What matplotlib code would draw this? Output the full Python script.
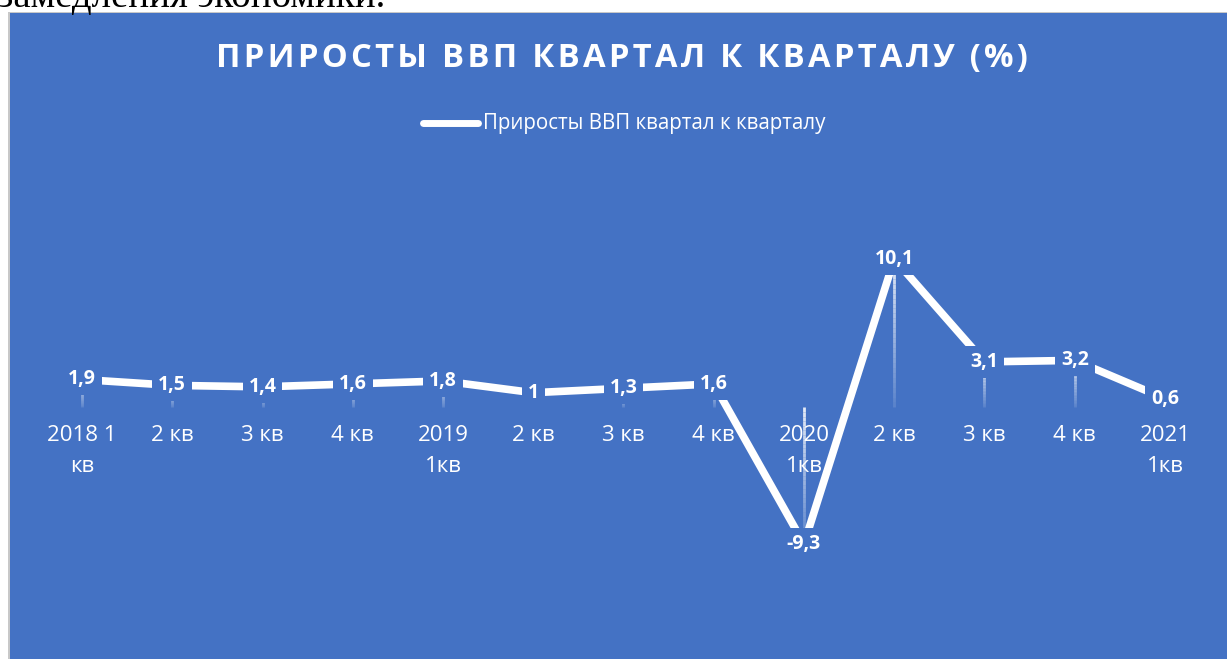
import numpy as np
import matplotlib.pyplot as plt
from matplotlib.patches import Rectangle
from matplotlib.lines import Line2D

plt.rcParams['font.family'] = ['Open Sans', 'DejaVu Sans']

quarters = ['2018 1\nкв', '2 кв', '3 кв', '4 кв', '2019\n1кв', '2 кв', '3 кв', '4 кв',
            '2020\n1кв', '2 кв', '3 кв', '4 кв', '2021\n1кв']
growth = [1.9, 1.5, 1.4, 1.6, 1.8, 1.0, 1.3, 1.6, -9.3, 10.1, 3.1, 3.2, 0.6]
labels = ['1,9', '1,5', '1,4', '1,6', '1,8', '1', '1,3', '1,6', '-9,3', '10,1', '3,1', '3,2', '0,6']
title = 'ПРИРОСТЫ ВВП КВАРТАЛ К КВАРТАЛУ (%)'

blue = '#4472C4'
W, H = 1227, 659
fig = plt.figure(figsize=(W / 100, H / 100), dpi=100)
fig.patch.set_facecolor('white')

# panel background and the cut-off document line above it
fig.patches.append(Rectangle((7.5 / W, 0), 1, (H - 11.5) / H, transform=fig.transFigure,
                             facecolor='#c8c8c8', edgecolor='none', zorder=-10))
fig.patches.append(Rectangle((9.5 / W, 0), 1, (H - 13) / H, transform=fig.transFigure,
                             facecolor=blue, edgecolor='none', zorder=-9))
fig.text(-2 / W, 1 - 7 / H, 'замедления экономики.', family='Liberation Serif',
         fontsize=28, color='black', va='baseline', ha='left')

# axes placed so that x: 82 + 90.25*i px, y: 407.4 - 14.69*v px
x0, dx = 82.0, 90.25
y0, dy = 407.4, 14.69
px_l, px_r, px_t, px_b = 20, 1220, 150, 650
ax = fig.add_axes([px_l / W, 1 - px_b / H, (px_r - px_l) / W, (px_b - px_t) / H])
ax.set_zorder(5)
ax.set_xlim((px_l - x0) / dx, (px_r - x0) / dx)
ax.set_ylim((y0 - px_b) / dy, (y0 - px_t) / dy)
ax.patch.set_alpha(0)
for s in ax.spines.values():
    s.set_visible(False)
ax.set_xticks([])
ax.set_yticks([])

x = np.arange(len(growth))

# drop lines with fading gradient
for xi, v in zip(x, growth):
    n = 30
    ys = np.linspace(max(v, 0), min(v, 0), n + 1)
    for k in range(n):
        a = 0.85 - 0.75 * k / n
        ax.plot([xi, xi], [ys[k], ys[k + 1]], color='white', alpha=a, lw=2,
                solid_capstyle='butt', zorder=2)

ax.plot(x, growth, color='white', lw=5.5, solid_capstyle='butt', zorder=3)

for xi, v, t in zip(x, growth, labels):
    ax.text(xi, v, t, ha='center', va='center', color='white', fontsize=14,
            fontweight='bold', zorder=5,
            bbox=dict(boxstyle='square,pad=0.3', facecolor=blue, edgecolor='none'))

for xi, q in zip(x, quarters):
    ax.text(xi, (y0 - 425) / dy, q, ha='center', va='top', color='white',
            fontsize=16, linespacing=1.6, zorder=4)

# title with letter spacing (hair spaces)
fig.text(622 / W, 1 - 58 / H, '\u200a'.join(title), ha='center',
         va='center', color='white', fontsize=23.6, fontweight='bold')

fig.lines.append(Line2D([423 / W, 478 / W], [1 - 123 / H, 1 - 123 / H], transform=fig.transFigure,
                        color='white', lw=5, solid_capstyle='round'))
fig.text(483 / W, 1 - 123 / H, 'Приросты ВВП квартал к кварталу', ha='left', va='center',
         color='white', fontsize=14.8)

fig.savefig('out.png', dpi=100, facecolor=fig.get_facecolor())
